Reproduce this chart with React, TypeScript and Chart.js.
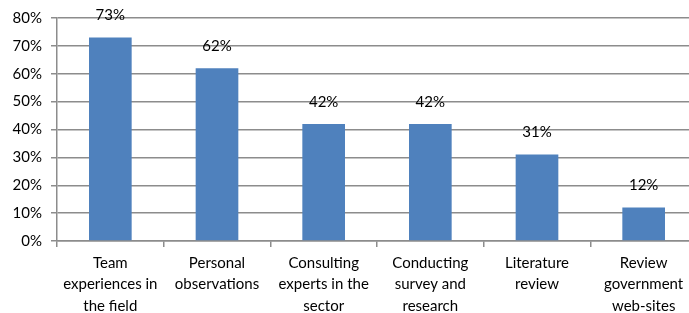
import React, { useEffect, useRef } from "react";
import { Chart, registerables } from "chart.js";

Chart.register(...registerables);

const categories: string[][] = [
  ["Team", "experiences in", "the field"],
  ["Personal", "observations"],
  ["Consulting", "experts in the", "sector"],
  ["Conducting", "survey and", "research"],
  ["Literature", "review"],
  ["Review", "government", "web-sites"],
];
const values: number[] = [73, 62, 42, 42, 31, 12];
const yTicks: number[] = [0, 10, 20, 30, 40, 50, 60, 70, 80];

const FONT = "Lato, 'Noto Sans', sans-serif";
const GRID = "#8c8c8c";

const labelPlugin = {
  id: "barLabels",
  afterDatasetsDraw(chart: any) {
    const ctx = chart.ctx;
    const meta = chart.getDatasetMeta(0);
    ctx.save();
    ctx.font = `15px ${FONT}`;
    ctx.fillStyle = "#000";
    ctx.textAlign = "center";
    ctx.textBaseline = "middle";
    meta.data.forEach((bar: any, i: number) => {
      ctx.fillText(values[i] + "%", bar.x, bar.y - 22);
    });
    ctx.restore();
  },
};

export default function App() {
  const ref = useRef<HTMLCanvasElement | null>(null);
  useEffect(() => {
    if (!ref.current) return;
    const chart = new Chart(ref.current, {
      type: "bar",
      data: {
        labels: categories,
        datasets: [
          {
            data: values,
            backgroundColor: "#4F81BD",
            borderWidth: 0,
            categoryPercentage: 1,
            barPercentage: 0.4,
          },
        ],
      },
      options: {
        responsive: false,
        animation: false,
        layout: { padding: { top: 18, left: 0, right: 3, bottom: 0 } },
        plugins: { legend: { display: false }, tooltip: { enabled: false } },
        scales: {
          x: {
            grid: {
              offset: true,
              drawOnChartArea: false,
              drawTicks: true,
              tickLength: 6,
              color: GRID,
              lineWidth: 1.5,
            },
            border: { color: GRID, width: 1.5 },
            ticks: {
              color: "#000",
              font: { family: FONT, size: 15, lineHeight: 1.45 },
              padding: 5,
              maxRotation: 0,
              autoSkip: false,
            },
            afterFit(scale: any) {
              scale.height = 72;
            },
          },
          y: {
            min: 0,
            max: 80,
            afterBuildTicks(scale: any) {
              scale.ticks = yTicks.map((v) => ({ value: v }));
            },
            grid: {
              color: GRID,
              lineWidth: 1.5,
              tickLength: 6,
            },
            border: { color: GRID, width: 1.5 },
            ticks: {
              color: "#000",
              font: { family: FONT, size: 15 },
              padding: 9,
              callback: (v: any) => v + "%",
            },
            afterFit(scale: any) {
              scale.width = 57;
            },
          },
        },
      },
      plugins: [labelPlugin],
    });
    return () => chart.destroy();
  }, []);
  return (
    <div
      style={{
        position: "fixed",
        left: 0,
        top: 0,
        width: 689,
        height: 313,
        overflow: "hidden",
        background: "#fff",
      }}
    >
      <canvas ref={ref} width={700} height={313} style={{ display: "block" }} />
    </div>
  );
}
